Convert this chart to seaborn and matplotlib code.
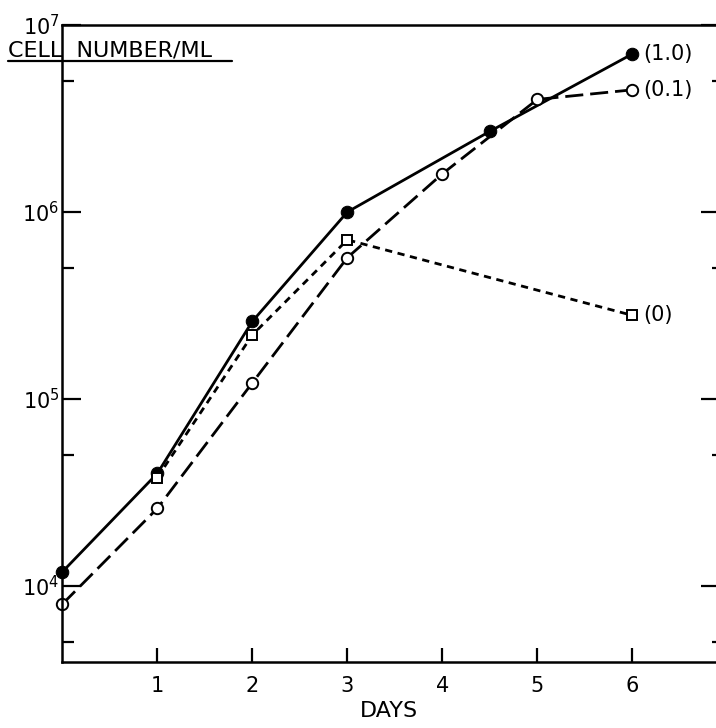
import numpy as np
import pandas as pd
import matplotlib
matplotlib.use("Agg")
import matplotlib.pyplot as plt
from matplotlib.ticker import FixedLocator, NullFormatter, FixedFormatter
import seaborn as sns

# ---- data ----
days_10 = [0, 1, 2, 3, 4.5, 6]
cells_10 = [1.19e4, 4.0e4, 2.6e5, 1.0e6, 2.7e6, 7.0e6]

days_01 = [0, 1, 2, 3, 4, 5, 6]
cells_01 = [8.0e3, 2.6e4, 1.22e5, 5.7e5, 1.6e6, 4.0e6, 4.5e6]

days_0 = [1, 2, 3, 6]
cells_0 = [3.8e4, 2.2e5, 7.1e5, 2.8e5]

labels = ["(1.0)", "(0.1)", "(0)"]
x_ticks = [1, 2, 3, 4, 5, 6]
y_major = [1e4, 1e5, 1e6, 1e7]
y_major_labels = ["$10^4$", "$10^5$", "$10^6$", "$10^7$"]
y_minor = [5e3, 5e4, 5e5, 5e6]

sns.set_style("white")
plt.rcParams['font.family'] = ['DejaVu Sans']
plt.rcParams['mathtext.fontset'] = 'dejavusans'
plt.rcParams['text.color'] = 'black'
plt.rcParams['axes.labelcolor'] = 'black'
plt.rcParams['xtick.color'] = 'black'
plt.rcParams['ytick.color'] = 'black'

fig = plt.figure(figsize=(7.16, 7.28), dpi=100)
ax = fig.add_axes([0.087, 0.0907, 0.913, 0.875])

ylo, yhi = 10 ** 3.594, 1e7
lw = 2.0
sns.lineplot(x=days_10, y=cells_10, ax=ax, color="black", linewidth=lw,
             marker="o", markersize=9, markerfacecolor="black",
             markeredgecolor="black", linestyle="-", clip_on=False)
sns.lineplot(x=days_01, y=cells_01, ax=ax, color="black", linewidth=lw,
             marker="o", markersize=8.2, markerfacecolor="white",
             markeredgecolor="black", markeredgewidth=1.4,
             linestyle=(0, (6.5, 2.5)), clip_on=False)
sns.lineplot(x=days_0, y=cells_0, ax=ax, color="black", linewidth=lw,
             marker="s", markersize=7.2, markerfacecolor="white",
             markeredgecolor="black", markeredgewidth=1.4,
             linestyle=(0, (2.6, 2.0)), clip_on=False)

ax.set_yscale("log")
ax.set_xlim(0, 6.88)
ax.set_ylim(ylo, yhi)

# label series at last points
ends = [(days_10[-1], cells_10[-1]), (days_01[-1], cells_01[-1]), (days_0[-1], cells_0[-1])]
for (xe, ye), lab in zip(ends, labels):
    ax.annotate(lab, (xe, ye), xytext=(8, 0), textcoords="offset points",
                ha="left", va="center", fontsize=15)

# spines
for s in ["left", "bottom", "top"]:
    ax.spines[s].set_visible(True)
    ax.spines[s].set_color("black")
    ax.spines[s].set_linewidth(1.8)
ax.spines["right"].set_visible(False)

ax.xaxis.set_major_locator(FixedLocator(x_ticks))
ax.set_xticklabels([str(t) for t in x_ticks])
ax.yaxis.set_major_locator(FixedLocator(y_major))
ax.yaxis.set_major_formatter(FixedFormatter(y_major_labels))
ax.yaxis.set_minor_locator(FixedLocator(y_minor))
ax.yaxis.set_minor_formatter(NullFormatter())

ax.tick_params(axis="x", which="major", direction="in", length=10, width=1.6,
               bottom=True, top=False, labelsize=15, pad=10)
ax.tick_params(axis="y", which="major", direction="in", length=14, width=1.6,
               left=True, right=False, labelsize=15, pad=2)
ax.tick_params(axis="y", which="minor", direction="in", length=8.5, width=1.6,
               left=True, right=False)

# right-side ticks (shorter)
ax2 = ax.twinx()
ax2.set_yscale("log")
ax2.set_ylim(ylo, yhi)
for s in ["left", "bottom", "top", "right"]:
    ax2.spines[s].set_visible(False)
ax2.yaxis.set_major_locator(FixedLocator(y_major))
ax2.yaxis.set_minor_locator(FixedLocator(y_minor))
ax2.yaxis.set_major_formatter(NullFormatter())
ax2.yaxis.set_minor_formatter(NullFormatter())
ax2.tick_params(axis="y", which="major", direction="in", length=11, width=1.6, right=True)
ax2.tick_params(axis="y", which="minor", direction="in", length=3, width=1.6, right=True)

ax.set_xlabel("DAYS", fontsize=16, labelpad=4)
ax.set_ylabel("")

fig.text(0.011, 0.931, "CELL  NUMBER/ML", fontsize=16, ha="left", va="center")
fig.add_artist(plt.Line2D([0.011, 0.324], [0.916, 0.916], color="black",
                          linewidth=1.6, transform=fig.transFigure))

fig.savefig("out.png", dpi=100, facecolor="white")
